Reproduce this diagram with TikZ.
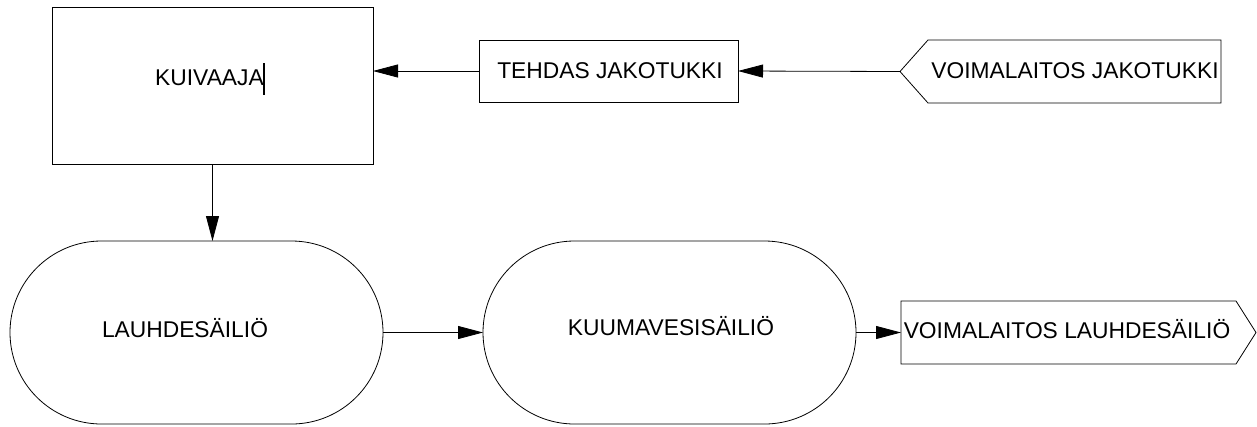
\documentclass[tikz,border=0pt]{standalone}
\usepackage{fontspec}
\setmainfont{Liberation Sans}
\usetikzlibrary{shapes.misc,arrows.meta,calc}
\begin{document}
\begin{tikzpicture}[x=1pt,y=-1pt,
  line width=0.8pt,
  shapebox/.style={draw=none,rectangle,inner sep=0pt,outer sep=0pt},
  procbox/.style={draw,rectangle,inner sep=0pt,outer sep=0pt},
  tank/.style={draw,rounded rectangle,inner sep=0pt,outer sep=0pt,minimum width=373pt,minimum height=183pt},
  lbl/.style={inner sep=0pt,font=\fontsize{22.8}{26}\selectfont},
  arr/.style={-{Triangle[length=25pt,width=13pt]}}]
\useasboundingbox (0,0) rectangle (1257,426);
% nodes
\node[procbox,minimum width=321pt,minimum height=157pt] (kuiv) at (212.5,85.5) {};
\node[procbox,minimum width=259pt,minimum height=62pt] (tj) at (608.5,71) {};
\node[shapebox,minimum width=321pt,minimum height=63pt] (vj) at (1060.5,71.5) {};
\node[tank] (lauh) at (196.5,332.5) {};
\node[tank] (kuum) at (669.5,332.5) {};
\node[shapebox,minimum width=355pt,minimum height=63pt] (vl) at (1078.5,332.5) {};
% off-page connector outlines
\draw ($(vj.north west)+(28,0)$) -- (vj.north east) -- (vj.south east) -- ($(vj.south west)+(28,0)$) -- (vj.west) -- cycle;
\draw (vl.north west) -- ($(vl.north east)+(-20,0)$) -- (vl.east) -- ($(vl.south east)+(-20,0)$) -- (vl.south west) -- cycle;
% labels
\node[lbl] (tkuiv) at (209.5,77.5) {KUIVAAJA};
\node[lbl] (ttj) at (610,71) {TEHDAS JAKOTUKKI};
\node[lbl] (tvj) at (1075,71) {VOIMALAITOS JAKOTUKKI};
\node[lbl] (tlauh) at (185,328) {LAUHDESÄILIÖ};
\node[lbl] (tkuum) at (671,326) {KUUMAVESISÄILIÖ};
\node[lbl] (tvl) at (1067,329.5) {VOIMALAITOS LAUHDESÄILIÖ};
% text cursor
\coordinate (c1) at (264,63);
\coordinate (c2) at (264,95);
\draw[line width=1.2pt] (c1) -- (c2);
% connectors
\draw[arr] (vj.west) -- (tj.east);
\draw[arr] (tj.west) -- (tj.west -| kuiv.east);
\draw[arr] (kuiv.south) -- (kuiv.south |- lauh.north);
\draw[arr] (lauh.east) -- (kuum.west);
\draw[arr] (kuum.east) -- (vl.west);
\end{tikzpicture}
\end{document}
